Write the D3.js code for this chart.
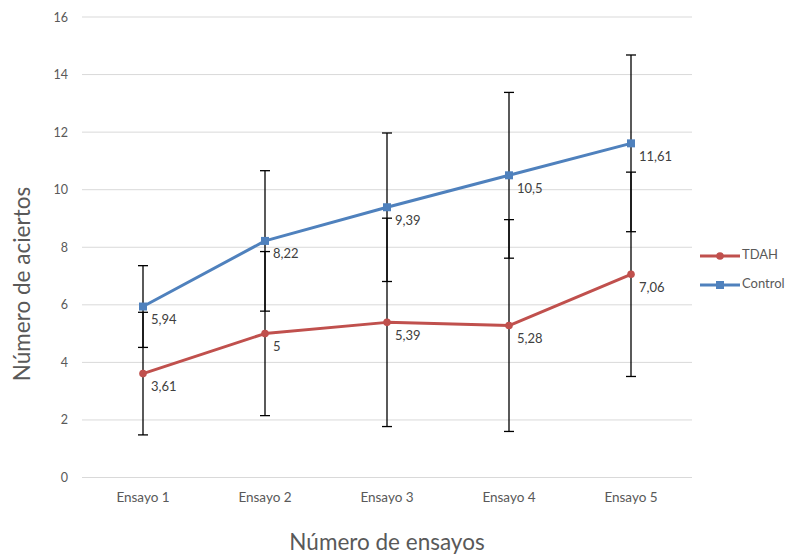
<!DOCTYPE html>
<html>
<head>
<meta charset="utf-8">
<script src="https://cdn.jsdelivr.net/npm/d3@7"></script>
<style>
  html, body { margin: 0; padding: 0; background: #fff; }
  svg { display: block; font-family: Lato, "Open Sans", sans-serif; }
</style>
</head>
<body>
<svg id="chart" width="790" height="556"></svg>
<script>
// Trials and series
const categories = ["Ensayo 1", "Ensayo 2", "Ensayo 3", "Ensayo 4", "Ensayo 5"];
const tdahValues = [3.61, 5, 5.39, 5.28, 7.06];
const tdahErrors = [2.13, 2.85, 3.62, 3.68, 3.55];
const controlValues = [5.94, 8.22, 9.39, 10.5, 11.61];
const controlErrors = [1.42, 2.44, 2.58, 2.88, 3.07];
const yTicks = [0, 2, 4, 6, 8, 10, 12, 14, 16];
const seriesNames = ["TDAH", "Control"];

const series = [
  { name: seriesNames[0], values: tdahValues, errors: tdahErrors, color: "#C0504D", marker: "circle" },
  { name: seriesNames[1], values: controlValues, errors: controlErrors, color: "#4F81BD", marker: "square" }
];

const svg = d3.select("#chart");
const plot = { left: 82, right: 692, top: 17, bottom: 477.5 };

const x = d3.scaleBand().domain(categories).range([plot.left, plot.right]);
const y = d3.scaleLinear().domain([0, 16]).range([plot.bottom, plot.top]);
const cx = c => x(c) + x.bandwidth() / 2;

// Horizontal gridlines
svg.append("g")
  .selectAll("line")
  .data(yTicks)
  .join("line")
  .attr("x1", plot.left).attr("x2", plot.right)
  .attr("y1", d => y(d)).attr("y2", d => y(d))
  .attr("stroke", "#D9D9D9").attr("stroke-width", 1);

// Y axis tick labels
const yAxis = svg.append("g")
  .attr("transform", `translate(${plot.left},0)`)
  .call(d3.axisLeft(y).tickValues(yTicks).tickSize(0).tickPadding(14).tickFormat(d3.format("d")));
yAxis.select(".domain").remove();
yAxis.selectAll("text").attr("fill", "#595959").attr("font-size", 12.5)
  .attr("font-family", "Lato, 'Open Sans', sans-serif");

// X axis tick labels
const xAxis = svg.append("g")
  .attr("transform", `translate(0,${plot.bottom})`)
  .call(d3.axisBottom(x).tickSize(0).tickPadding(15));
xAxis.select(".domain").remove();
xAxis.selectAll("text").attr("fill", "#595959").attr("font-size", 13.5)
  .attr("font-family", "Lato, 'Open Sans', sans-serif");

// Axis titles
svg.append("text")
  .attr("x", 387).attr("y", 550)
  .attr("text-anchor", "middle")
  .attr("fill", "#595959").attr("font-size", 22.5)
  .text("Número de ensayos");

svg.append("text")
  .attr("transform", "translate(30,284) rotate(-90)")
  .attr("text-anchor", "middle")
  .attr("fill", "#595959").attr("font-size", 22.5)
  .text("Número de aciertos");

// Error bars
const capW = 5;
series.forEach(s => {
  const g = svg.append("g").attr("stroke", "#000").attr("stroke-width", 1.3);
  categories.forEach((c, i) => {
    const v = s.values[i], e = s.errors[i];
    const px = cx(c);
    g.append("line").attr("x1", px).attr("x2", px).attr("y1", y(v - e)).attr("y2", y(v + e));
    g.append("line").attr("x1", px - capW).attr("x2", px + capW).attr("y1", y(v - e)).attr("y2", y(v - e));
    g.append("line").attr("x1", px - capW).attr("x2", px + capW).attr("y1", y(v + e)).attr("y2", y(v + e));
  });
});

// Lines and markers
const line = d3.line().x((d, i) => cx(categories[i])).y(d => y(d));
series.forEach(s => {
  svg.append("path")
    .datum(s.values)
    .attr("fill", "none")
    .attr("stroke", s.color)
    .attr("stroke-width", 3)
    .attr("stroke-linejoin", "round")
    .attr("d", line);

  const mg = svg.append("g").attr("fill", s.color);
  if (s.marker === "circle") {
    mg.selectAll("circle").data(s.values).join("circle")
      .attr("cx", (d, i) => cx(categories[i])).attr("cy", d => y(d)).attr("r", 3.8);
  } else {
    mg.selectAll("rect").data(s.values).join("rect")
      .attr("x", (d, i) => cx(categories[i]) - 4).attr("y", d => y(d) - 4)
      .attr("width", 8).attr("height", 8);
  }

  // Data labels
  svg.append("g").selectAll("text").data(s.values).join("text")
    .attr("x", (d, i) => cx(categories[i]) + 8)
    .attr("y", d => y(d) + 14)
    .attr("dominant-baseline", "middle")
    .attr("fill", "#404040").attr("font-size", 13)
    .text(d => String(d).replace(".", ","));
});

// Legend
const legend = svg.append("g").attr("transform", "translate(700,256)");
series.forEach((s, i) => {
  const g = legend.append("g").attr("transform", `translate(0,${i * 29})`);
  g.append("line").attr("x1", 0).attr("x2", 40).attr("y1", 0).attr("y2", 0)
    .attr("stroke", s.color).attr("stroke-width", 3);
  if (s.marker === "circle") {
    g.append("circle").attr("cx", 20).attr("cy", 0).attr("r", 3.8).attr("fill", s.color);
  } else {
    g.append("rect").attr("x", 16).attr("y", -4).attr("width", 8).attr("height", 8).attr("fill", s.color);
  }
  g.append("text").attr("x", 42).attr("y", 0).attr("dominant-baseline", "middle")
    .attr("fill", "#595959").attr("font-size", 13).text(s.name);
});
</script>
</body>
</html>
